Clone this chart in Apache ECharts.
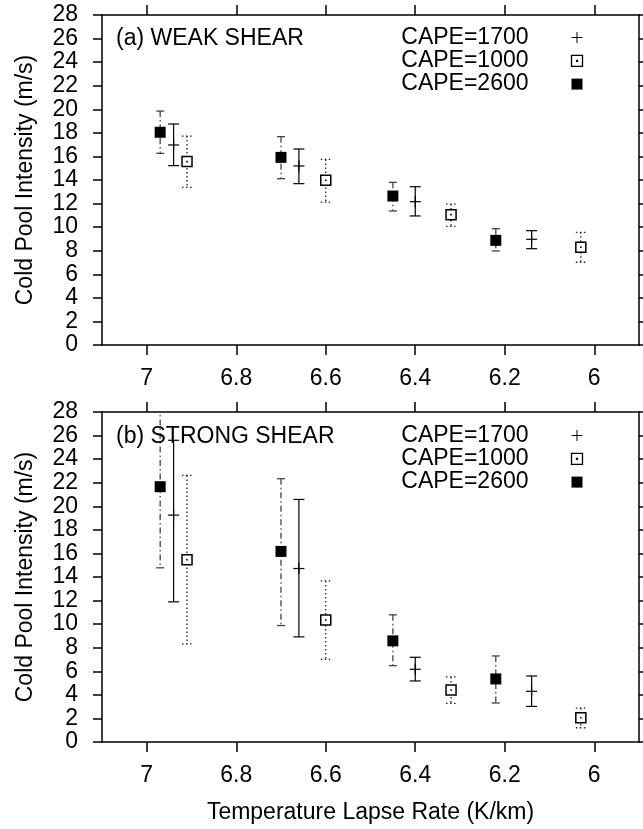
<!DOCTYPE html>
<html>
<head>
<meta charset="utf-8">
<script src="https://cdn.jsdelivr.net/npm/echarts@6/dist/echarts.min.js"></script>
<style>
  html, body { margin: 0; padding: 0; background: #fff; }
  #chart { width: 643px; height: 829px; }
</style>
</head>
<body>
<div id="chart"></div>
<script>
// Each row: [lapse rate (K/km), mean intensity, lower bound, upper bound] in m/s
const weak1700 = [[6.94, 16.97, 15.22, 18.75], [6.66, 15.19, 13.69, 16.63], [6.40, 12.16, 10.95, 13.43], [6.14, 8.97, 8.17, 9.70]];
const weak1000 = [[6.91, 15.56, 13.38, 17.73], [6.60, 13.97, 12.13, 15.75], [6.32, 11.06, 10.07, 11.96], [6.03, 8.29, 7.02, 9.56]];
const weak2600 = [[6.97, 18.05, 16.26, 19.85], [6.70, 15.92, 14.11, 17.68], [6.45, 12.64, 11.37, 13.80], [6.22, 8.88, 7.98, 9.87]];

const strong1700 = [[6.94, 19.25, 11.89, 25.6], [6.66, 14.72, 8.92, 20.58], [6.40, 6.17, 5.18, 7.19], [6.14, 4.30, 3.02, 5.60]];
const strong1000 = [[6.91, 15.46, 8.32, 22.62], [6.60, 10.36, 7.01, 13.67], [6.32, 4.41, 3.28, 5.52], [6.03, 2.06, 1.21, 2.88]];
const strong2600 = [[6.97, 21.66, 14.78, 28.5], [6.70, 16.17, 9.88, 22.34], [6.45, 8.58, 6.48, 10.79], [6.22, 5.35, 3.31, 7.30]];

const lapseTicks = [7, 6.8, 6.6, 6.4, 6.2, 6];
const seriesNames = ['CAPE=1700', 'CAPE=1000', 'CAPE=2600'];
const panelTitles = ['(a) WEAK SHEAR', '(b) STRONG SHEAR'];
const xAxisTitle = 'Temperature Lapse Rate (K/km)';
const yAxisTitle = 'Cold Pool Intensity (m/s)';

const FONT = '"Liberation Sans", Arial, Helvetica, sans-serif';
const FS = 23;

// Drawing styles per CAPE group
const STYLE = {
  'CAPE=1700': { color: '#000', width: 1.2, dash: null, cap: 11, marker: 'plus' },
  'CAPE=1000': { color: '#222', width: 1.3, dash: [1.5, 2.5], cap: 10, marker: 'open' },
  'CAPE=2600': { color: '#444', width: 1.3, dash: [6, 3, 1.5, 3], cap: 8, marker: 'filled' }
};

function makeRender(name) {
  const st = STYLE[name];
  return function (params, api) {
    const x = api.value(0);
    const c = api.coord([x, api.value(1)]);
    const lo = api.coord([x, api.value(2)]);
    const hi = api.coord([x, api.value(3)]);
    const half = st.cap / 2;
    const barStyle = { stroke: st.color, lineWidth: st.width, lineDash: st.dash, fill: null };
    const capStyle = { stroke: st.color, lineWidth: st.width, lineDash: name === 'CAPE=1000' ? [1.5, 2.5] : null, fill: null };
    const children = [
      { type: 'line', shape: { x1: c[0], y1: hi[1], x2: c[0], y2: lo[1] }, style: barStyle },
      { type: 'line', shape: { x1: c[0] - half, y1: hi[1], x2: c[0] + half, y2: hi[1] }, style: capStyle },
      { type: 'line', shape: { x1: c[0] - half, y1: lo[1], x2: c[0] + half, y2: lo[1] }, style: capStyle }
    ];
    if (st.marker === 'filled') {
      children.push({ type: 'rect', shape: { x: c[0] - 5.5, y: c[1] - 5.5, width: 11, height: 11 }, style: { fill: '#000' } });
    } else if (st.marker === 'open') {
      children.push({ type: 'rect', shape: { x: c[0] - 5, y: c[1] - 5, width: 10, height: 10 }, style: { fill: '#fff', stroke: '#000', lineWidth: 1.5 } });
      children.push({ type: 'rect', shape: { x: c[0] - 0.8, y: c[1] - 0.8, width: 1.6, height: 1.6 }, style: { fill: '#000' } });
    } else {
      children.push({ type: 'line', shape: { x1: c[0] - 5.5, y1: c[1], x2: c[0] + 5.5, y2: c[1] }, style: { stroke: '#000', lineWidth: 1.2 } });
      children.push({ type: 'line', shape: { x1: c[0], y1: c[1] - 5.5, x2: c[0], y2: c[1] + 5.5 }, style: { stroke: '#000', lineWidth: 1.2 } });
    }
    return { type: 'group', children: children };
  };
}

const axisLineStyle = { color: '#000', width: 1.5 };
const labelStyle = { color: '#000', fontSize: FS, fontFamily: FONT };

function xAxesFor(gi, withName) {
  const base = {
    type: 'value', gridIndex: gi, min: 5.9, max: 7.1, inverse: true,
    splitLine: { show: false },
    axisLine: { show: true, onZero: false, lineStyle: axisLineStyle },
    axisTick: { show: true, length: 10, customValues: lapseTicks, lineStyle: axisLineStyle }
  };
  const bottom = Object.assign({}, base, {
    position: 'bottom',
    axisLabel: Object.assign({ customValues: lapseTicks, margin: 22 }, labelStyle)
  });
  if (withName) {
    Object.assign(bottom, {
      name: xAxisTitle, nameLocation: 'middle', nameGap: 59,
      nameTextStyle: { color: '#000', fontSize: FS, fontFamily: FONT }
    });
  }
  const top = Object.assign({}, base, { position: 'top', axisLabel: { show: false } });
  return [bottom, top];
}

function yAxesFor(gi) {
  const base = {
    type: 'value', gridIndex: gi, min: 0, max: 28, interval: 2,
    splitLine: { show: false },
    axisLine: { show: true, onZero: false, lineStyle: axisLineStyle },
    axisTick: { show: true, length: 9, lineStyle: axisLineStyle }
  };
  const left = Object.assign({}, base, {
    position: 'left',
    axisLabel: Object.assign({ margin: 24 }, labelStyle),
    name: yAxisTitle, nameLocation: 'middle', nameGap: 65,
    nameTextStyle: { color: '#000', fontSize: FS, fontFamily: FONT }
  });
  const right = Object.assign({}, base, { position: 'right', axisLabel: { show: false } });
  return [left, right];
}

const legendIcons = [
  { name: 'CAPE=1700', icon: 'path://M0,5L10,5M5,0L5,10', itemStyle: { color: 'none', borderColor: '#000', borderWidth: 1 } },
  { name: 'CAPE=1000', icon: 'path://M0,0L10,0L10,10L0,10Z M4.6,4.6L5.4,4.6L5.4,5.4L4.6,5.4Z', itemStyle: { color: '#fff', borderColor: '#000', borderWidth: 1.3 } },
  { name: 'CAPE=2600', icon: 'rect', itemStyle: { color: '#000', borderWidth: 0 } }
];

function legendFor(top) {
  return {
    orient: 'vertical', right: 58, top: top, align: 'right',
    itemWidth: 11, itemHeight: 11, itemGap: 0.3, padding: 0,
    selectedMode: false,
    data: legendIcons,
    textStyle: { color: '#000', fontSize: FS, fontFamily: FONT, lineHeight: 23, padding: [0, 38, 0, 0] }
  };
}

const panelData = [
  { 'CAPE=1700': weak1700, 'CAPE=1000': weak1000, 'CAPE=2600': weak2600 },
  { 'CAPE=1700': strong1700, 'CAPE=1000': strong1000, 'CAPE=2600': strong2600 }
];

const series = [];
panelData.forEach(function (pd, gi) {
  seriesNames.forEach(function (name) {
    series.push({
      type: 'custom', name: name,
      xAxisIndex: gi * 2, yAxisIndex: gi * 2,
      clip: true,
      itemStyle: { color: '#000' },
      renderItem: makeRender(name),
      encode: { x: 0, y: [1, 2, 3] },
      data: pd[name]
    });
  });
});

const chart = echarts.init(document.getElementById('chart'), null, { renderer: 'canvas' });
chart.setOption({
  animation: false,
  backgroundColor: '#fff',
  title: [
    { text: panelTitles[0], left: 116, top: 27, padding: 0, textStyle: { color: '#000', fontSize: FS, fontWeight: 'normal', fontFamily: FONT, lineHeight: 23 } },
    { text: panelTitles[1], left: 116, top: 425, padding: 0, textStyle: { color: '#000', fontSize: FS, fontWeight: 'normal', fontFamily: FONT, lineHeight: 23 } }
  ],
  legend: [legendFor(26), legendFor(424)],
  grid: [
    { left: 102, right: 4, top: 15, height: 330 },
    { left: 102, right: 4, top: 412, height: 330 }
  ],
  xAxis: xAxesFor(0, false).concat(xAxesFor(1, true)),
  yAxis: yAxesFor(0).concat(yAxesFor(1)),
  series: series
});
</script>
</body>
</html>
